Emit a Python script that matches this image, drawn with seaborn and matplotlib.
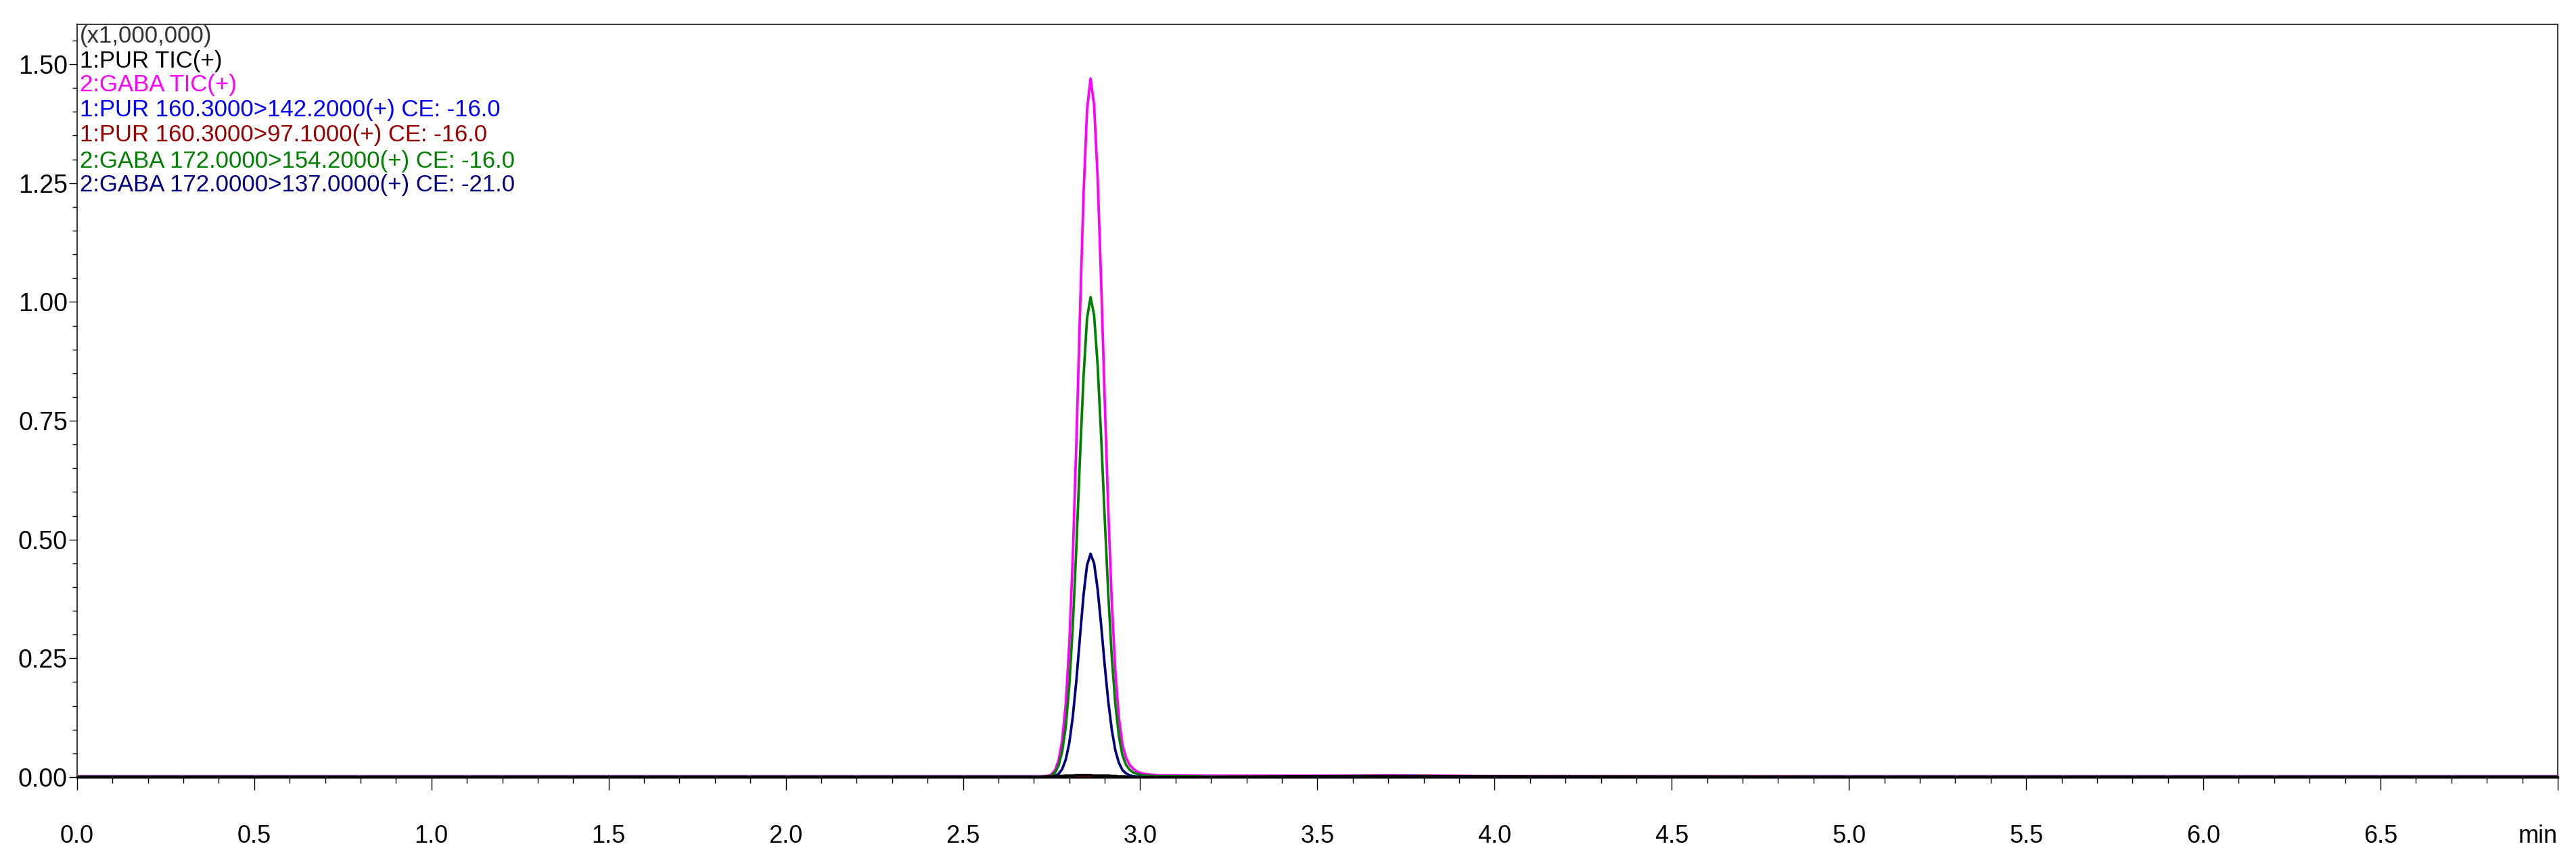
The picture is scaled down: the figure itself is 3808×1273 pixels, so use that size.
import numpy as np
import pandas as pd
import matplotlib
matplotlib.use("Agg")
import matplotlib.pyplot as plt
import seaborn as sns
from matplotlib.ticker import MultipleLocator

# ---------------- data ----------------
time_min = [0.0, 1.0, 2.0, 2.5, 2.70,
            2.72, 2.73, 2.74, 2.75, 2.76, 2.77, 2.78, 2.79, 2.80, 2.81, 2.82, 2.83,
            2.84, 2.85, 2.86, 2.87, 2.88, 2.89, 2.90, 2.91, 2.92, 2.93, 2.94, 2.95,
            2.96, 2.97, 2.98, 2.99, 3.00, 3.01, 3.02, 3.03, 3.04, 3.05, 3.06,
            3.10, 3.20, 3.40, 3.60, 3.70, 3.80, 4.0, 5.0, 6.0, 7.0]

# intensities in units of 1,000,000
gaba_tic = [0.002, 0.002, 0.002, 0.002, 0.002,
            0.002, 0.002, 0.003, 0.006, 0.015, 0.036, 0.078, 0.154, 0.281, 0.466, 0.706, 0.973,
            1.223, 1.404, 1.470, 1.414, 1.260, 1.039, 0.792, 0.560, 0.366, 0.222, 0.125, 0.068,
            0.041, 0.026, 0.018, 0.012, 0.009, 0.007, 0.006, 0.005, 0.005, 0.004, 0.004,
            0.004, 0.003, 0.003, 0.003, 0.004, 0.003, 0.002, 0.002, 0.002, 0.002]

gaba_154 = [0.001, 0.001, 0.001, 0.001, 0.001,
            0.001, 0.001, 0.001, 0.004, 0.010, 0.025, 0.054, 0.106, 0.193, 0.320, 0.485, 0.669,
            0.840, 0.965, 1.010, 0.972, 0.866, 0.714, 0.544, 0.385, 0.251, 0.153, 0.086, 0.046,
            0.026, 0.016, 0.010, 0.007, 0.005, 0.004, 0.003, 0.003, 0.002, 0.002, 0.002,
            0.002, 0.001, 0.001, 0.001, 0.001, 0.001, 0.001, 0.001, 0.001, 0.001]

gaba_137 = [0.0, 0.0, 0.0, 0.0, 0.0,
            0.0, 0.0, 0.0, 0.001, 0.003, 0.007, 0.017, 0.037, 0.072, 0.128, 0.204, 0.294,
            0.382, 0.446, 0.470, 0.450, 0.395, 0.319, 0.235, 0.159, 0.099, 0.056, 0.030, 0.015,
            0.008, 0.004, 0.002, 0.001, 0.001, 0.0, 0.0, 0.0, 0.0, 0.0, 0.0,
            0.0, 0.0, 0.0, 0.0, 0.0, 0.0, 0.0, 0.0, 0.0, 0.0]

pur_tic = [0.0, 0.0, 0.0, 0.0, 0.0,
           0.0, 0.001, 0.001, 0.001, 0.002, 0.002, 0.002, 0.003, 0.003, 0.003, 0.004, 0.004,
           0.004, 0.004, 0.004, 0.003, 0.003, 0.003, 0.003, 0.003, 0.002, 0.002, 0.001, 0.001,
           0.001, 0.0, 0.0, 0.0, 0.0, 0.0, 0.0, 0.0, 0.0, 0.0, 0.0,
           0.0, 0.0, 0.001, 0.002, 0.002, 0.002, 0.001, 0.0, 0.0, 0.0]

pur_142 = [0.0, 0.0, 0.0, 0.0, 0.0,
           0.0, 0.0, 0.0, 0.0, 0.0, 0.0, 0.0, 0.001, 0.001, 0.001, 0.001, 0.001,
           0.001, 0.001, 0.001, 0.001, 0.001, 0.001, 0.001, 0.001, 0.001, 0.0, 0.0, 0.0,
           0.0, 0.0, 0.0, 0.0, 0.0, 0.0, 0.0, 0.0, 0.0, 0.0, 0.0,
           0.0, 0.0, 0.0, 0.001, 0.001, 0.0, 0.0, 0.0, 0.0, 0.0]

pur_97 = [0.0, 0.0, 0.0, 0.0, 0.0,
          0.0, 0.0, 0.0, 0.0, 0.0, 0.0, 0.0, 0.0, 0.001, 0.001, 0.001, 0.001,
          0.001, 0.001, 0.001, 0.001, 0.001, 0.001, 0.001, 0.0, 0.0, 0.0, 0.0, 0.0,
          0.0, 0.0, 0.0, 0.0, 0.0, 0.0, 0.0, 0.0, 0.0, 0.0, 0.0,
          0.0, 0.0, 0.0, 0.0, 0.0, 0.0, 0.0, 0.0, 0.0, 0.0]

scale_label = "(x1,000,000)"
trace_labels = ["1:PUR TIC(+)",
                "2:GABA TIC(+)",
                "1:PUR 160.3000>142.2000(+) CE: -16.0",
                "1:PUR 160.3000>97.1000(+) CE: -16.0",
                "2:GABA 172.0000>154.2000(+) CE: -16.0",
                "2:GABA 172.0000>137.0000(+) CE: -21.0"]
trace_values = [pur_tic, gaba_tic, pur_142, pur_97, gaba_154, gaba_137]
trace_colors = ["#000000", "#FF00FF", "#0000FF", "#990000", "#008000", "#000080"]

x_ticks = [0.0, 0.5, 1.0, 1.5, 2.0, 2.5, 3.0, 3.5, 4.0, 4.5, 5.0, 5.5, 6.0, 6.5, 7.0]
x_tick_labels = ["0.0", "0.5", "1.0", "1.5", "2.0", "2.5", "3.0", "3.5", "4.0",
                 "4.5", "5.0", "5.5", "6.0", "6.5", "min"]
y_ticks = [0.0, 0.25, 0.50, 0.75, 1.00, 1.25, 1.50]
y_tick_labels = ["0.00", "0.25", "0.50", "0.75", "1.00", "1.25", "1.50"]

# ---------------- build long table ----------------
frames = []
for lab, vals in zip(trace_labels, trace_values):
    frames.append(pd.DataFrame({"time": time_min, "intensity": vals, "trace": lab}))
df = pd.concat(frames, ignore_index=True)

# ---------------- styling ----------------
sns.set_theme(style="white")
plt.rcParams["font.family"] = ["Liberation Sans", "DejaVu Sans"]

fig = plt.figure(figsize=(38.08, 12.73), dpi=100)
ax = fig.add_axes([0.0299, 0.0974, 0.9630, 0.8743])

palette = dict(zip(trace_labels, trace_colors))
draw_order = [trace_labels[2], trace_labels[3], trace_labels[1],
              trace_labels[4], trace_labels[5], trace_labels[0]]
for i, lab in enumerate(draw_order):
    sub = df[df["trace"] == lab]
    sns.lineplot(data=sub, x="time", y="intensity", color=palette[lab],
                 estimator=None, sort=False,
                 linewidth=(3.0 if lab == trace_labels[0] else 2.7), ax=ax,
                 legend=False, zorder=3 + i)

ax.set_xlim(0, 7.0)
ax.set_ylim(0, 1.584)
ax.set_xlabel("")
ax.set_ylabel("")

ax.set_xticks(x_ticks)
ax.set_xticklabels(x_tick_labels)
ax.set_yticks(y_ticks)
ax.set_yticklabels(y_tick_labels)
ax.xaxis.set_minor_locator(MultipleLocator(0.1))
ax.yaxis.set_minor_locator(MultipleLocator(0.05))

ax.tick_params(axis="x", which="major", direction="out", length=13.5, width=1.0,
               pad=37, labelsize=26, colors="black", bottom=True)
ax.tick_params(axis="x", which="minor", direction="out", length=6.5, width=1.0,
               colors="black", bottom=True)
ax.tick_params(axis="y", which="major", direction="out", length=9, width=1.0,
               pad=1, labelsize=27, colors="black", left=True)
ax.tick_params(axis="y", which="minor", direction="out", length=5, width=1.0,
               colors="black", left=True)

# "min" unit label sits flush right at the axis end
ax.get_xticklabels()[-1].set_horizontalalignment("right")

for side in ["left", "right", "top", "bottom"]:
    ax.spines[side].set_visible(True)
    ax.spines[side].set_color("black")
    ax.spines[side].set_linewidth(1.1)
ax.spines["bottom"].set_linewidth(2.5)
ax.grid(False)

# trace legend text block at top-left
text_rows = [scale_label] + trace_labels
text_colors = ["#333333"] + trace_colors
text_y = [0.9847, 0.9515, 0.9200, 0.8868, 0.8527, 0.8185, 0.7870]
for t, c, y in zip(text_rows, text_colors, text_y):
    ax.text(0.001, y, t, color=c, fontsize=25, transform=ax.transAxes,
            ha="left", va="center", zorder=10)

fig.savefig("out.png", dpi=100, facecolor="white")
